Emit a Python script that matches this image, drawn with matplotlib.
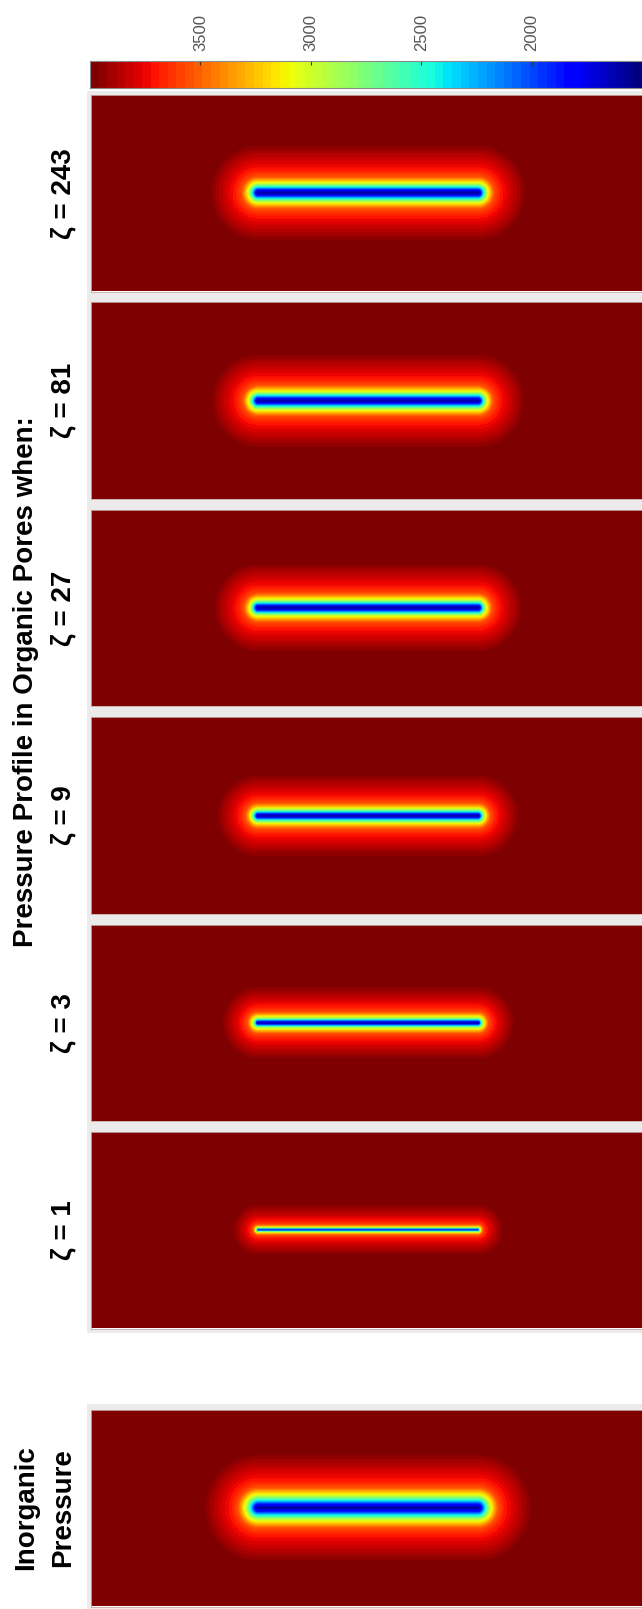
import numpy as np
import matplotlib
matplotlib.use("Agg")
import matplotlib.pyplot as plt
from matplotlib.colors import Normalize
from matplotlib.patches import Rectangle

# ---------------- data ----------------
panel_labels = ["ζ = 243", "ζ = 81", "ζ = 27", "ζ = 9", "ζ = 3", "ζ = 1"]
title_text = "Pressure Profile in Organic Pores when:"
inorganic_label = ["Inorganic", "Pressure"]

cbar_ticks = [3500, 3000, 2500, 2000]
cbar_min, cbar_max = 1500, 4000

# fracture (pore) segment in panel units (panel is 554 x 196.5 units)
panel_width = 554.0
panel_height = 196.5
fracture_x = [167.0, 387.0]
fracture_y = 98.25

# pressure levels and distance from fracture at which each level is reached
pressure_levels = [1550, 1850, 2450, 2950, 3250, 3550, 3700, 3850, 4000, 4100]
dist_inorganic = [0, 3.5, 7.5, 11.5, 15.5, 20.0, 27.0, 41.0, 56.0, 64.0]
dist_z243 = [0, 2.8, 5.8, 8.8, 12.0, 16.0, 23.0, 36.0, 50.0, 58.0]
dist_z81 = [0, 2.6, 5.4, 8.3, 11.5, 15.0, 22.0, 35.0, 49.0, 57.0]
dist_z27 = [0, 2.4, 4.9, 7.4, 10.5, 14.0, 20.5, 33.0, 46.0, 54.0]
dist_z9 = [0, 2.0, 4.0, 6.5, 9.0, 12.5, 18.5, 30.0, 43.0, 50.0]
dist_z3 = [0, 1.5, 3.0, 5.0, 7.5, 10.5, 16.0, 26.0, 38.0, 46.0]
dist_z1 = [0, 0.3, 1.2, 2.2, 3.5, 5.0, 8.5, 16.0, 27.0, 34.0]
organic_dists = [dist_z243, dist_z81, dist_z27, dist_z9, dist_z3, dist_z1]

# ---------------- layout ----------------
W, H = 642, 1609
fig = plt.figure(figsize=(W / 100, H / 100), dpi=100)
fig.patch.set_facecolor("white")


def rect(x0, y0, x1, y1):
    return [x0 / W, 1 - y1 / H, (x1 - x0) / W, (y1 - y0) / H]


for (x0, y0, x1, y1) in [(87, 91, 680, 1333), (87, 1404, 680, 1640)]:
    fig.add_artist(Rectangle((x0 / W, 1 - y1 / H), (x1 - x0) / W, (y1 - y0) / H,
                             transform=fig.transFigure, facecolor="#ebebeb",
                             edgecolor="none", zorder=0))

cmap = plt.get_cmap("jet", 64)
norm = Normalize(cbar_min, cbar_max)

xs = np.arange(0.5, panel_width, 1.0)
ys = np.arange(0.5, panel_height, 1.0)
X, Y = np.meshgrid(xs, ys)
dxs = np.clip(X, fracture_x[0], fracture_x[1]) - X
D = np.sqrt(dxs ** 2 + (Y - fracture_y) ** 2)


def draw_panel(ax, dists):
    P = np.interp(D, dists, pressure_levels)
    ax.imshow(P, cmap=cmap, norm=norm, extent=[0, panel_width, panel_height, 0],
              aspect="auto", interpolation="bilinear")
    ax.set_xticks([])
    ax.set_yticks([])
    for s in ax.spines.values():
        s.set_edgecolor("#c9a9a9")
        s.set_linewidth(0.6)


font = "Liberation Sans"
top0, step, ph = 95.0, 207.4, 196.5
for i, (lab, dists) in enumerate(zip(panel_labels, organic_dists)):
    y0 = top0 + i * step
    ax = fig.add_axes(rect(91, y0, 645, y0 + ph))
    draw_panel(ax, dists)
    fig.text(63 / W, 1 - (y0 + ph / 2) / H, lab, rotation=90, ha="center",
             va="center", fontsize=20, fontweight="bold", family=font)

ax_in = fig.add_axes(rect(91, 1410, 645, 1606.5))
draw_panel(ax_in, dist_inorganic)
fig.text(26 / W, 1 - 1508 / H, inorganic_label[0], rotation=90, ha="center",
         va="center", fontsize=20, fontweight="bold", family=font)
fig.text(63 / W, 1 - 1508 / H, inorganic_label[1], rotation=90, ha="center",
         va="center", fontsize=20, fontweight="bold", family=font)

fig.text(26 / W, 1 - 682 / H, title_text, rotation=90, ha="center", va="center",
         fontsize=20, fontweight="bold", family=font)

# colorbar (high values on the left)
cax = fig.add_axes(rect(90, 61, 642, 88))
grad = np.linspace(cbar_max, cbar_min, 600)[None, :]
cax.imshow(grad, cmap=cmap, norm=norm, extent=[cbar_max, cbar_min, 0, 1],
           aspect="auto", interpolation="nearest")
cax.set_xlim(cbar_max, cbar_min)
cax.set_yticks([])
cax.xaxis.set_ticks_position("top")
cax.set_xticks(cbar_ticks)
cax.set_xticklabels([str(t) for t in cbar_ticks], rotation=90, family=font)
cax.tick_params(axis="x", direction="in", length=3, width=0.8, color="#333333",
                labelsize=12, labelcolor="#555555", pad=7)
for s in cax.spines.values():
    s.set_edgecolor("#8a8a8a")
    s.set_linewidth(0.8)

fig.savefig("out.png", dpi=100)
